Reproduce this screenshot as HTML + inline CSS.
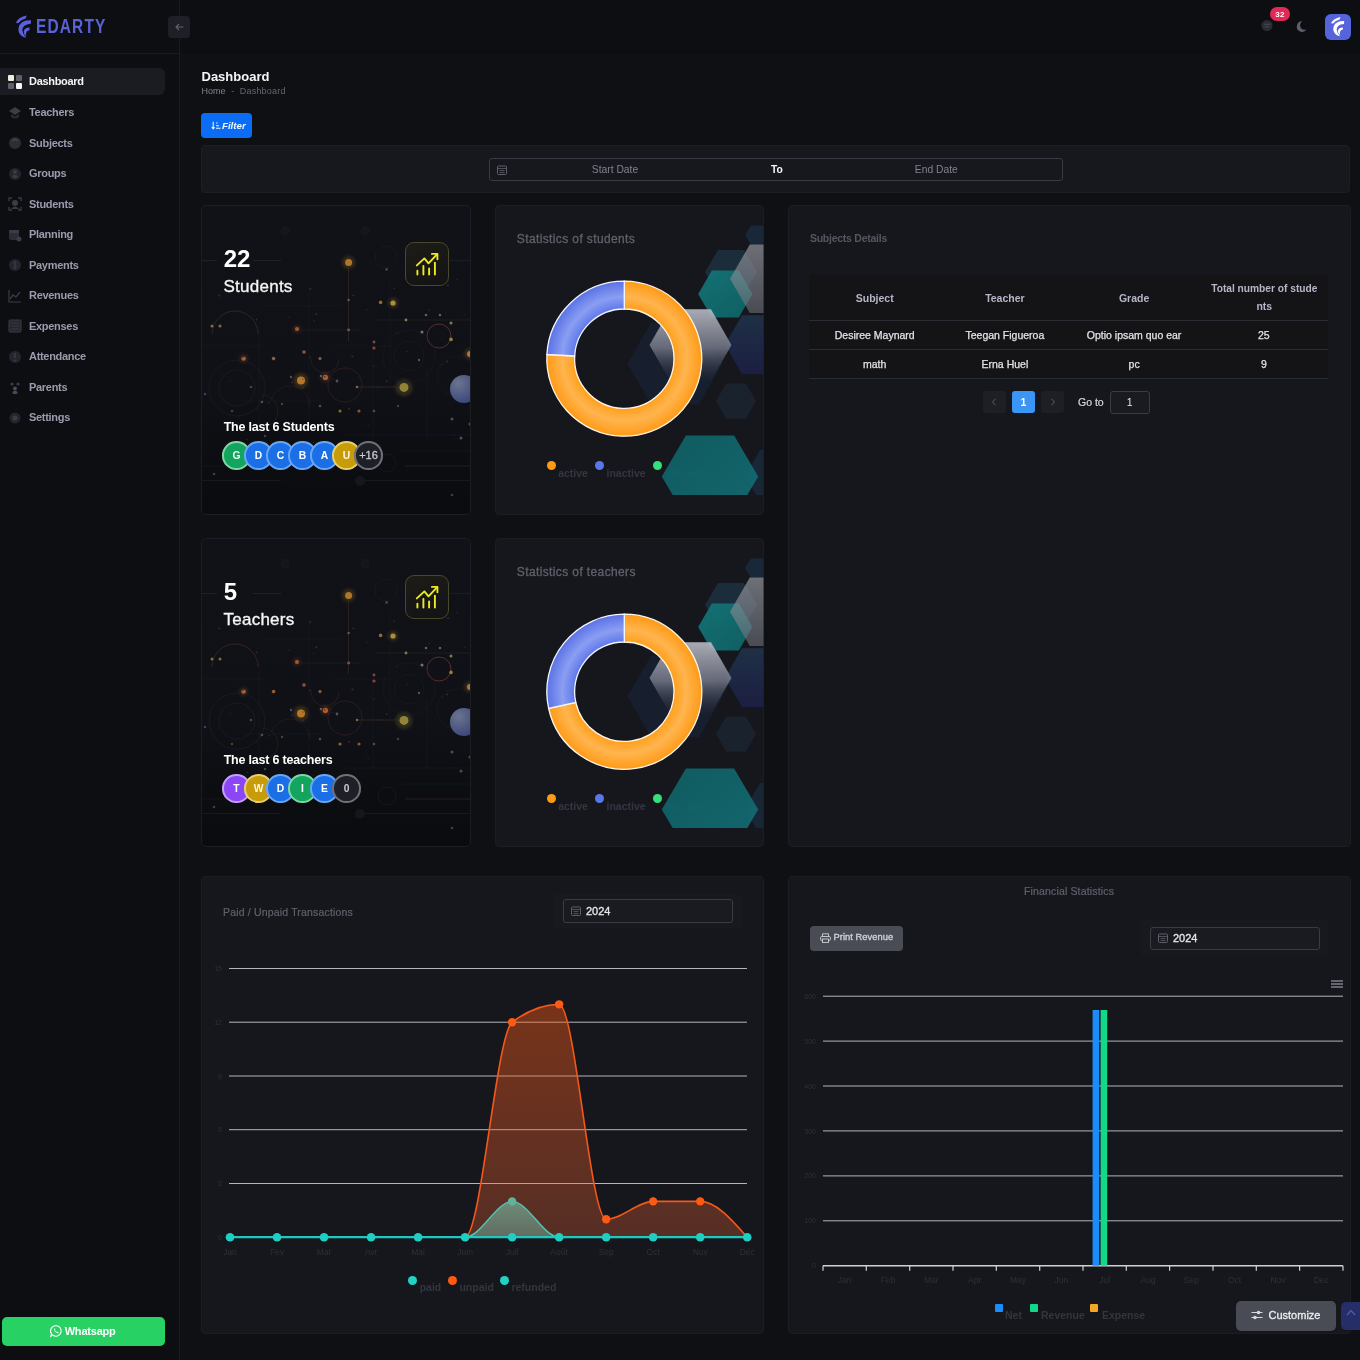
<!DOCTYPE html>
<html><head><meta charset="utf-8"><title>Edarty Dashboard</title>
<style>
*{box-sizing:border-box;margin:0;padding:0}
html,body{width:1360px;height:1360px;overflow:hidden;background:#0f1014;font-family:"Liberation Sans",Arial,sans-serif;color:#f5f5f5}
.t{position:absolute;white-space:nowrap;line-height:1}
.r{position:absolute}
svg{position:absolute;overflow:visible}
</style></head><body>
<div class="r" style="left:0px;top:0px;width:179px;height:1360px;background:#0d0e12"></div>
<div class="r" style="left:180px;top:0px;width:1180px;height:54px;background:#0d0e12"></div>
<div class="r" style="left:179px;top:0px;width:1px;height:1360px;background:#1a1b21"></div>
<div class="r" style="left:0px;top:53px;width:179px;height:1px;background:#1a1b21"></div>
<svg style="left:10px;top:10px" width="30" height="32" viewBox="0 0 30 32"><path d="M5.8 12.8 Q8.5 7.2 16.8 5.6 L15.6 8.6 Q11 9.6 8.2 13.2 Z" fill="#5b60dc"/><path d="M21 10.2 Q12.5 9.6 9.2 15.5 Q7 21.5 10.8 25.3 Q13 27.6 16.3 27.8 Q12.8 24.6 12.3 20.2 Q12.3 14.6 20.8 13.8 Z" fill="#5b60dc"/><path d="M19.6 17.6 Q14.6 17.4 13.7 21.6 Q13.4 24.6 16.2 26.4 Q15.6 23.6 16.6 21.8 Q17.6 20.4 19.3 20.4 Z" fill="#5b60dc"/></svg>
<div class="t" style="left:36.0px;top:17.4px;font-size:19.4px;color:#5a62d8;font-weight:700;letter-spacing:1.4px;transform:scaleX(0.8);transform-origin:0 0">EDARTY</div>
<div class="r" style="left:168px;top:16px;width:22px;height:22px;background:#1f2027;border-radius:4px"></div>
<svg style="left:175px;top:23px" width="9" height="8" viewBox="0 0 9 8"><path d="M8.5 4 H1 M4 1 L1 4 L4 7" stroke="#62646f" stroke-width="1.1" fill="none"/></svg>
<div class="r" style="left:0px;top:68px;width:165px;height:27px;background:#1b1c22;border-radius:0 6px 6px 0"></div>
<svg style="left:8px;top:75.0px" width="14" height="14" viewBox="0 0 14 14"><rect x="0" y="0" width="6" height="6" rx="1" fill="#f0ede0"/><rect x="8" y="0" width="6" height="6" rx="1" fill="#5d5f69"/><rect x="0" y="8" width="6" height="6" rx="1" fill="#5d5f69"/><rect x="8" y="8" width="6" height="6" rx="1" fill="#f5f5f5"/></svg>
<div class="t" style="left:29.0px;top:76.4px;font-size:11px;color:#f5f5f5;font-weight:700;letter-spacing:-0.3px">Dashboard</div>
<svg style="left:8px;top:105.5px" width="14" height="14" viewBox="0 0 14 14"><path d="M7 1 L13 5 L7 9 L1 5 Z" fill="#3a3c46"/><path d="M3 8 L3 11 Q7 14 11 11 L11 8 L7 10.5 Z" fill="#2a2c34"/></svg>
<div class="t" style="left:29.0px;top:106.9px;font-size:11px;color:#9a9cae;font-weight:700;letter-spacing:-0.3px">Teachers</div>
<svg style="left:8px;top:136.1px" width="14" height="14" viewBox="0 0 14 14"><circle cx="7" cy="7" r="6" fill="#2c2e36"/><path d="M4 5 Q7 2 10 5" stroke="#3e404a" stroke-width="2" fill="none"/></svg>
<div class="t" style="left:29.0px;top:137.5px;font-size:11px;color:#9a9cae;font-weight:700;letter-spacing:-0.3px">Subjects</div>
<svg style="left:8px;top:166.7px" width="14" height="14" viewBox="0 0 14 14"><circle cx="7" cy="7" r="6" fill="#24262e"/><circle cx="7" cy="5" r="2" fill="#3a3c46"/><rect x="4.5" y="8" width="5" height="3" rx="1.5" fill="#3a3c46"/></svg>
<div class="t" style="left:29.0px;top:168.0px;font-size:11px;color:#9a9cae;font-weight:700;letter-spacing:-0.3px">Groups</div>
<svg style="left:8px;top:197.2px" width="14" height="14" viewBox="0 0 14 14"><path d="M1 4 V1 H4 M10 1 H13 V4 M13 10 V13 H10 M4 13 H1 V10" stroke="#3a3c46" stroke-width="1.3" fill="none"/><circle cx="7" cy="6" r="3" fill="#3a3c46"/><path d="M3 12 Q7 7 11 12" fill="#3a3c46"/></svg>
<div class="t" style="left:29.0px;top:198.6px;font-size:11px;color:#9a9cae;font-weight:700;letter-spacing:-0.3px">Students</div>
<svg style="left:8px;top:227.8px" width="14" height="14" viewBox="0 0 14 14"><rect x="1" y="2" width="10" height="10" rx="2" fill="#2c2e36"/><rect x="1" y="2" width="10" height="3" rx="1" fill="#3a3c46"/><circle cx="11" cy="11" r="2.5" fill="#3a3c46"/></svg>
<div class="t" style="left:29.0px;top:229.1px;font-size:11px;color:#9a9cae;font-weight:700;letter-spacing:-0.3px">Planning</div>
<svg style="left:8px;top:258.3px" width="14" height="14" viewBox="0 0 14 14"><circle cx="7" cy="7" r="6" fill="#24262e"/><path d="M8.5 4.5 Q7 3.5 5.8 4.3 Q5 5.5 7 6.8 Q9 8 8 9.5 Q6.8 10.4 5.3 9.4 M7 2.8 V11.2" stroke="#3a3c46" stroke-width="1" fill="none"/></svg>
<div class="t" style="left:29.0px;top:259.7px;font-size:11px;color:#9a9cae;font-weight:700;letter-spacing:-0.3px">Payments</div>
<svg style="left:8px;top:288.9px" width="14" height="14" viewBox="0 0 14 14"><path d="M1 1 V13 H13" stroke="#3a3c46" stroke-width="1.2" fill="none"/><path d="M2 10 L5 6 L8 8 L12 3" stroke="#3a3c46" stroke-width="1.3" fill="none"/></svg>
<div class="t" style="left:29.0px;top:290.2px;font-size:11px;color:#9a9cae;font-weight:700;letter-spacing:-0.3px">Revenues</div>
<svg style="left:8px;top:319.4px" width="14" height="14" viewBox="0 0 14 14"><rect x="1" y="1" width="12" height="12" rx="1" fill="#24262e" stroke="#3a3c46"/><path d="M3 4 H11 M3 7 H11 M3 10 H11" stroke="#3a3c46" stroke-width="1.2"/></svg>
<div class="t" style="left:29.0px;top:320.8px;font-size:11px;color:#9a9cae;font-weight:700;letter-spacing:-0.3px">Expenses</div>
<svg style="left:8px;top:349.9px" width="14" height="14" viewBox="0 0 14 14"><circle cx="7" cy="7" r="6" fill="#24262e"/><path d="M7 3 V8" stroke="#3a3c46" stroke-width="1.6"/><circle cx="7" cy="10.5" r="1" fill="#3a3c46"/></svg>
<div class="t" style="left:29.0px;top:351.3px;font-size:11px;color:#9a9cae;font-weight:700;letter-spacing:-0.3px">Attendance</div>
<svg style="left:8px;top:380.5px" width="14" height="14" viewBox="0 0 14 14"><circle cx="4" cy="3" r="1.6" fill="#3a3c46"/><circle cx="10" cy="3" r="1.6" fill="#3a3c46"/><circle cx="7" cy="7.5" r="2" fill="#4a4c56"/><rect x="4.5" y="10" width="5" height="3" rx="1.5" fill="#4a4c56"/></svg>
<div class="t" style="left:29.0px;top:381.9px;font-size:11px;color:#9a9cae;font-weight:700;letter-spacing:-0.3px">Parents</div>
<svg style="left:8px;top:411.1px" width="14" height="14" viewBox="0 0 14 14"><circle cx="7" cy="7" r="5.5" fill="#24262e"/><circle cx="7" cy="7" r="2.5" fill="#3a3c46"/></svg>
<div class="t" style="left:29.0px;top:412.4px;font-size:11px;color:#9a9cae;font-weight:700;letter-spacing:-0.3px">Settings</div>
<div class="r" style="left:2px;top:1317px;width:163px;height:29px;background:#28d164;border-radius:5px"></div>
<svg style="left:49.5px;top:1325px" width="12" height="12" viewBox="0 0 12 12"><path d="M6 0.8 A5.2 5.2 0 1 1 2.7 10 L0.8 11.2 L1.5 9 A5.2 5.2 0 0 1 6 0.8 Z" stroke="#fff" stroke-width="1.1" fill="none"/><path d="M4 3.6 Q3.8 7 8 8.4 L8.7 7.4 L7.5 6.6 L6.9 7.1 Q5.4 6.4 4.9 5.1 L5.4 4.6 L4.9 3.4 Z" fill="#fff"/></svg>
<div class="t" style="left:64.7px;top:1326.1px;font-size:11px;color:#fff;font-weight:700;letter-spacing:-0.2px">Whatsapp</div>
<svg style="left:1261px;top:20px" width="12" height="11" viewBox="0 0 12 11"><circle cx="6" cy="5.5" r="5.5" fill="#2a2c33"/><path d="M3 4.3 H9 M3.8 6.8 H8" stroke="#4a4c56" stroke-width="1.1"/></svg>
<div class="r" style="left:1270px;top:7px;width:20px;height:14px;background:#e42855;border-radius:7px"></div>
<div class="t" style="left:1270.0px;top:10.5px;width:20px;text-align:center;font-size:8px;color:#fff;font-weight:700;letter-spacing:0.4px">32</div>
<svg style="left:1296px;top:20.5px" width="11" height="11" viewBox="0 0 11 11"><path d="M6.5 0.3 A5.3 5.3 0 1 0 10.7 8.3 A4.3 4.3 0 0 1 6.5 0.3 Z" fill="#5c5e69"/></svg>
<div class="r" style="left:1325px;top:14px;width:26px;height:26px;background:#5664dc;border-radius:6px"></div>
<svg style="left:1326px;top:12px" width="26" height="28" viewBox="0 0 30 32"><path d="M5.8 12.8 Q8.5 7.2 16.8 5.6 L15.6 8.6 Q11 9.6 8.2 13.2 Z" fill="#fff"/><path d="M21 10.2 Q12.5 9.6 9.2 15.5 Q7 21.5 10.8 25.3 Q13 27.6 16.3 27.8 Q12.8 24.6 12.3 20.2 Q12.3 14.6 20.8 13.8 Z" fill="#fff"/><path d="M19.6 17.6 Q14.6 17.4 13.7 21.6 Q13.4 24.6 16.2 26.4 Q15.6 23.6 16.6 21.8 Q17.6 20.4 19.3 20.4 Z" fill="#fff"/></svg>
<div class="t" style="left:201.5px;top:69.5px;font-size:13px;color:#f5f5f5;font-weight:700;">Dashboard</div>
<div class="t" style="left:201.5px;top:87.3px;font-size:9px;color:#808290;font-weight:400;">Home</div>
<div class="t" style="left:231.3px;top:87.3px;font-size:9px;color:#636674;font-weight:400;">-</div>
<div class="t" style="left:239.8px;top:87.3px;font-size:9px;color:#636674;font-weight:400;letter-spacing:0.2px">Dashboard</div>
<div class="r" style="left:201px;top:113px;width:51px;height:25px;background:#0b6cf6;border-radius:4px"></div>
<svg style="left:211px;top:121px" width="11" height="9" viewBox="0 0 11 9"><path d="M2.2 0.8 V7.6 M0.8 6.2 L2.2 7.9 L3.6 6.2" stroke="#e8f4ff" stroke-width="1.1" fill="none"/><path d="M5 2 H6.6 M5 4.7 H8 M5 7.3 H9.5" stroke="#e8f4ff" stroke-width="1.1"/></svg>
<div class="t" style="left:222.0px;top:120.9px;font-size:9.7px;color:#eef7ff;font-weight:700;font-style:italic">Filter</div>
<div class="r" style="left:201px;top:145px;width:1149px;height:48px;background:#17181d;border:1px solid #1d1e24;border-radius:4px"></div>
<div class="r" style="left:489px;top:158px;width:574px;height:23px;background:#17181d;border:1px solid #383a44;border-radius:3px"></div>
<svg style="left:496.5px;top:164.5px" width="10" height="10" viewBox="0 0 10 10"><rect x="0.5" y="1" width="9" height="8.5" rx="1" stroke="#5d5f69" fill="none"/><path d="M0.5 3.5 H9.5 M2.5 5.5 H7.5 M2.5 7.5 H7.5" stroke="#5d5f69" stroke-width="0.8"/></svg>
<div class="t" style="left:591.8px;top:165.3px;font-size:10.3px;color:#808290;font-weight:400;">Start Date</div>
<div class="t" style="left:771.0px;top:165.3px;font-size:10.3px;color:#f5f5f5;font-weight:700;">To</div>
<div class="t" style="left:914.8px;top:165.3px;font-size:10.3px;color:#808290;font-weight:400;">End Date</div>
<div class="r" style="left:201px;top:205px;width:270px;height:310px;border-radius:5px;border:1px solid #1d1e25;overflow:hidden;background:linear-gradient(180deg,#111217 0%,#101116 60%,#0c0d11 85%,#0a0b0f 100%)"><svg style="left:0;top:0" width="270" height="310" viewBox="0 0 270 310"><defs><radialGradient id="bc205" cx="0.3" cy="0.3" r="0.8"><stop offset="0" stop-color="#7c86a4"/><stop offset="1" stop-color="#3f4d8c"/></radialGradient></defs><filter id="sf205"><feGaussianBlur stdDeviation="0.45"/></filter><filter id="gf205" x="-50%" y="-50%" width="200%" height="200%"><feGaussianBlur stdDeviation="1.6"/></filter><g filter="url(#gf205)"><circle cx="146.6" cy="56.4" r="6.6" fill="#c8882e" opacity="0.2"/><circle cx="191" cy="97" r="4.9" fill="#c9a53a" opacity="0.2"/><circle cx="95" cy="123" r="3.8" fill="#c06040" opacity="0.2"/><circle cx="41.6" cy="152.6" r="4.2" fill="#c8703a" opacity="0.2"/><circle cx="99" cy="174.6" r="7.6" fill="#d08a2d" opacity="0.2"/><circle cx="123.4" cy="171.4" r="4.9" fill="#d0682c" opacity="0.2"/><circle cx="202" cy="181.4" r="8.5" fill="#a8963e" opacity="0.2"/><circle cx="268" cy="148" r="5.7" fill="#c88a30" opacity="0.2"/></g><g filter="url(#sf205)" opacity="0.82"><line x1="0" y1="54.5" x2="15" y2="54.5" stroke="#23252d" stroke-width="1" opacity="1"/><line x1="51" y1="54.5" x2="79" y2="54.5" stroke="#23252d" stroke-width="1" opacity="1"/><line x1="248" y1="54.5" x2="270" y2="54.5" stroke="#1f2129" stroke-width="1" opacity="1"/><line x1="146.6" y1="60" x2="146.6" y2="135" stroke="#3a2a22" stroke-width="1" opacity="0.9"/><line x1="107" y1="79" x2="107" y2="215" stroke="#1a1c23" stroke-width="1" opacity="1"/><line x1="171" y1="135" x2="171" y2="230" stroke="#1c1d24" stroke-width="1" opacity="1"/><line x1="188" y1="70" x2="188" y2="180" stroke="#191b22" stroke-width="1" opacity="1"/><line x1="173" y1="114" x2="270" y2="114" stroke="#2a2420" stroke-width="1" opacity="0.9"/><line x1="99" y1="124" x2="159" y2="124" stroke="#1d1e25" stroke-width="1" opacity="1"/><line x1="155" y1="181" x2="199" y2="181" stroke="#3a3020" stroke-width="1" opacity="0.9"/><line x1="0" y1="140" x2="60" y2="140" stroke="#1b1c23" stroke-width="1" opacity="1"/><line x1="130" y1="140" x2="190" y2="140" stroke="#1b1c23" stroke-width="1" opacity="1"/><line x1="60" y1="100" x2="140" y2="100" stroke="#191a21" stroke-width="1" opacity="1"/><line x1="143" y1="229" x2="270" y2="229" stroke="#1c1d24" stroke-width="1" opacity="1"/><line x1="199" y1="245" x2="270" y2="245" stroke="#1c1d24" stroke-width="1" opacity="1"/><line x1="0" y1="260" x2="100" y2="260" stroke="#1c1d24" stroke-width="1" opacity="1"/><line x1="203" y1="260" x2="270" y2="260" stroke="#2a2420" stroke-width="1" opacity="1"/><line x1="0" y1="274.5" x2="79" y2="274.5" stroke="#1d1e25" stroke-width="1" opacity="1"/><line x1="159" y1="274.5" x2="270" y2="274.5" stroke="#1d1e25" stroke-width="1" opacity="1"/><line x1="57" y1="120" x2="57" y2="215" stroke="#1a1b22" stroke-width="1" opacity="1"/><line x1="225" y1="160" x2="225" y2="230" stroke="#1a1b22" stroke-width="1" opacity="1"/><line x1="40" y1="195" x2="120" y2="195" stroke="#1a1b22" stroke-width="1" opacity="1"/><circle cx="237" cy="130" r="12" fill="none" stroke="#7a3a3a" stroke-width="1" opacity="0.85"/><path d="M10.0 128.0 A23 23 0 0 1 56.0 128.0" fill="none" stroke="#4a3028" stroke-width="1" opacity="0.8"/><circle cx="143" cy="179" r="17" fill="none" stroke="#3a2526" stroke-width="1" opacity="0.8"/><path d="M137.0 153.0 A14 14 0 0 1 109.0 153.0" fill="none" stroke="#3a2426" stroke-width="1" opacity="0.8"/><circle cx="35" cy="182" r="28" fill="none" stroke="#1c1f2c" stroke-width="1" opacity="0.9"/><circle cx="35" cy="182" r="18" fill="none" stroke="#1e2130" stroke-width="1" opacity="0.8"/><path d="M69.2 193.2 A20 20 0 0 1 108.0 200.0" fill="none" stroke="#2d2228" stroke-width="1" opacity="0.7"/><path d="M60.0 189.0 A16 16 0 0 1 60.0 221.0" fill="none" stroke="#3a2428" stroke-width="1" opacity="0.6"/><circle cx="207" cy="150" r="26" fill="none" stroke="#1a1c25" stroke-width="1" opacity="0.8"/><circle cx="207" cy="150" r="15" fill="none" stroke="#1f1f28" stroke-width="1" opacity="0.6"/><circle cx="185" cy="257" r="9" fill="none" stroke="#1d1e26" stroke-width="1" opacity="0.8"/><circle cx="184" cy="51" r="11" fill="none" stroke="#1d1f27" stroke-width="1" opacity="0.8"/><circle cx="255" cy="170" r="20" fill="none" stroke="#1b1d26" stroke-width="1" opacity="0.8"/><circle cx="83" cy="25" r="5" fill="#16171c"/><circle cx="163" cy="25" r="5" fill="#16171c"/><circle cx="158" cy="275" r="5" fill="#191a22"/><circle cx="146.6" cy="56.4" r="3.5" fill="#c8882e"/><circle cx="191" cy="97" r="2.6" fill="#c9a53a"/><circle cx="178.6" cy="96.4" r="1.8" fill="#a8803a"/><circle cx="95" cy="123" r="2" fill="#c06040"/><circle cx="41.6" cy="152.6" r="2.2" fill="#c8703a"/><circle cx="71.6" cy="152.6" r="1.8" fill="#b8703a"/><circle cx="102" cy="146" r="1.8" fill="#b0604a"/><circle cx="118" cy="152.6" r="1.6" fill="#9a7050"/><circle cx="99" cy="174.6" r="4" fill="#d08a2d"/><circle cx="123.4" cy="171.4" r="2.6" fill="#d0682c"/><circle cx="202" cy="181.4" r="4.5" fill="#a8963e"/><circle cx="249" cy="133.4" r="1.8" fill="#b09a40"/><circle cx="220" cy="126" r="1.5" fill="#8a8a90"/><circle cx="10" cy="120" r="1.5" fill="#9a8040"/><circle cx="18" cy="120" r="1.5" fill="#9a8040"/><circle cx="204" cy="114" r="1.4" fill="#9a9060"/><circle cx="224" cy="109" r="1.3" fill="#707078"/><circle cx="238" cy="109" r="1.3" fill="#707078"/><circle cx="249" cy="117" r="1.5" fill="#9a9060"/><circle cx="268" cy="148" r="3" fill="#c88a30"/><circle cx="226" cy="76" r="1.2" fill="#8a6a40"/><circle cx="184.6" cy="63.4" r="1.2" fill="#606068"/><circle cx="146.6" cy="94" r="1.3" fill="#8a6040"/><circle cx="146.6" cy="124" r="1.4" fill="#a06050"/><circle cx="172" cy="136" r="1.4" fill="#8a5a50"/><circle cx="172" cy="142" r="1.6" fill="#b04a3a"/><circle cx="135" cy="175" r="1.4" fill="#60606a"/><circle cx="119" cy="170" r="1.2" fill="#6a6a72"/><circle cx="89" cy="171" r="1.2" fill="#5a5a8a"/><circle cx="155" cy="181" r="1.3" fill="#9a7a40"/><circle cx="250" cy="213" r="1.5" fill="#5a5c66"/><circle cx="268" cy="218" r="1.5" fill="#5a5c66"/><circle cx="259" cy="232" r="1.5" fill="#5a5c66"/><circle cx="12" cy="268" r="1.3" fill="#4a4c56"/><circle cx="250" cy="289" r="1.3" fill="#4a4c56"/><circle cx="196" cy="200" r="1.2" fill="#4a4c66"/><circle cx="217" cy="154" r="1.2" fill="#606272"/><circle cx="138" cy="205" r="1.6" fill="#a07a3a"/><circle cx="157" cy="205" r="1.6" fill="#a06a3a"/><circle cx="172" cy="205" r="1.3" fill="#6a5a4a"/><circle cx="118" cy="200" r="1.3" fill="#5a5c66"/><circle cx="49" cy="181" r="1.3" fill="#6a4a3a"/><circle cx="30" cy="205" r="1.3" fill="#5a4a3a"/><circle cx="63" cy="230" r="1.2" fill="#4a4c56"/><circle cx="3" cy="188" r="1.3" fill="#4a4c66"/><circle cx="80" cy="198" r="1.2" fill="#5a4a3a"/><circle cx="60" cy="196" r="1.3" fill="#6a5a4a"/><circle cx="122.6" cy="170.8" r="0.8" fill="#2a2e3e"/><circle cx="227.3" cy="104.2" r="0.8" fill="#34302c"/><circle cx="164.6" cy="103.5" r="0.8" fill="#2a2e3e"/><circle cx="28.6" cy="215.7" r="0.9" fill="#2e3040"/><circle cx="108.0" cy="151.5" r="0.9" fill="#34302c"/><circle cx="167.0" cy="219.7" r="0.6" fill="#2e3040"/><circle cx="54.5" cy="113.5" r="1.0" fill="#2e3040"/><circle cx="89.8" cy="176.4" r="0.9" fill="#3a3030"/><circle cx="171.5" cy="160.0" r="0.8" fill="#2e3040"/><circle cx="77.3" cy="249.6" r="1.0" fill="#2e3040"/><circle cx="87.0" cy="111.3" r="0.6" fill="#3a3428"/><circle cx="151.4" cy="89.4" r="1.0" fill="#2e3040"/><circle cx="105.5" cy="242.4" r="0.7" fill="#2e3040"/><circle cx="246.0" cy="79.4" r="1.1" fill="#2a2e3e"/><circle cx="108.3" cy="83.1" r="1.0" fill="#3a3030"/><circle cx="75.1" cy="85.7" r="0.6" fill="#3a3428"/><circle cx="111.6" cy="236.1" r="0.7" fill="#3a3030"/><circle cx="31.3" cy="80.8" r="0.7" fill="#2a2e3e"/><circle cx="150.4" cy="150.5" r="1.1" fill="#3a3030"/><circle cx="205.1" cy="145.5" r="0.7" fill="#2a2e3e"/><circle cx="114.4" cy="108.3" r="1.0" fill="#3a3428"/><circle cx="258.5" cy="176.7" r="0.7" fill="#2e3040"/><circle cx="107.5" cy="223.8" r="0.7" fill="#34302c"/><circle cx="262.2" cy="108.4" r="0.6" fill="#3a3428"/><circle cx="163.7" cy="219.5" r="0.6" fill="#2a2e3e"/><circle cx="28.4" cy="174.9" r="0.6" fill="#3a3030"/><circle cx="100.9" cy="182.0" r="1.1" fill="#3a3030"/><circle cx="130.8" cy="173.4" r="0.7" fill="#2a2e3e"/><circle cx="45.1" cy="233.5" r="0.7" fill="#34302c"/><circle cx="54.3" cy="203.1" r="0.7" fill="#34302c"/><circle cx="252.0" cy="228.8" r="0.6" fill="#34302c"/><circle cx="17.3" cy="89.6" r="1.1" fill="#34302c"/><circle cx="67.0" cy="196.8" r="0.8" fill="#3a3428"/><circle cx="240.3" cy="158.4" r="0.7" fill="#34302c"/><circle cx="192.3" cy="82.4" r="0.8" fill="#3a3030"/><circle cx="174.9" cy="180.9" r="0.7" fill="#2e3040"/><circle cx="243.5" cy="106.7" r="0.6" fill="#2e3040"/><circle cx="112.0" cy="114.8" r="0.7" fill="#2e3040"/><circle cx="100.9" cy="173.0" r="0.6" fill="#3a3030"/><circle cx="41.0" cy="151.1" r="0.9" fill="#3a3428"/><circle cx="184.7" cy="175.2" r="0.9" fill="#3a3030"/><circle cx="245.1" cy="155.5" r="1.0" fill="#3a3428"/><circle cx="255.3" cy="73.8" r="0.8" fill="#2e3040"/><circle cx="194.9" cy="127.4" r="0.6" fill="#2e3040"/><circle cx="147.0" cy="202.7" r="1.0" fill="#3a3030"/></g><circle cx="262" cy="183" r="14" fill="url(#bc205)" opacity="0.85"/></svg></div>
<div class="t" style="left:223.7px;top:246.7px;font-size:24px;color:#ffffff;font-weight:700;">22</div>
<div class="t" style="left:223.5px;top:278.0px;font-size:17px;color:#f5f5f5;font-weight:400;-webkit-text-stroke:0.35px #f5f5f5;letter-spacing:0.25px">Students</div>
<div class="r" style="left:405px;top:242px;width:44px;height:44px;border-radius:9px;border:1px solid #4a482a;background:linear-gradient(160deg,#1d1c16,#131317)"></div>
<svg style="left:412px;top:250px" width="30" height="28" viewBox="0 0 30 28"><path d="M4.8 15.4 L12.4 8.4 L16.5 13.3 L25.2 4.1" stroke="#eeea20" stroke-width="1.9" fill="none" stroke-linecap="round" stroke-linejoin="round"/><path d="M19.9 3.9 H25.4 V9.2" stroke="#eeea20" stroke-width="1.9" fill="none" stroke-linecap="round" stroke-linejoin="round"/><path d="M5.4 20.8 V24.6 M11.4 15.9 V24.6 M17.1 18.4 V24.6 M22.9 12.7 V24.6" stroke="#eeea20" stroke-width="1.9" stroke-linecap="round"/></svg>
<div class="t" style="left:223.7px;top:421.2px;font-size:12.5px;color:#ffffff;font-weight:700;letter-spacing:-0.2px">The last 6 Students</div>
<div class="r" style="left:222.2px;top:441px;width:28.6px;height:28.6px;border-radius:50%;background:#13a55e;border:2px solid #7fd7a8"></div>
<div class="t" style="left:221.5px;top:450.5px;width:30px;text-align:center;font-size:10.3px;color:#e8fff0;font-weight:700;">G</div>
<div class="r" style="left:244.2px;top:441px;width:28.6px;height:28.6px;border-radius:50%;background:#1b6fe6;border:2px solid #6aa6f5"></div>
<div class="t" style="left:243.5px;top:450.5px;width:30px;text-align:center;font-size:10.3px;color:#fff;font-weight:700;">D</div>
<div class="r" style="left:266.2px;top:441px;width:28.6px;height:28.6px;border-radius:50%;background:#1b6fe6;border:2px solid #6aa6f5"></div>
<div class="t" style="left:265.5px;top:450.5px;width:30px;text-align:center;font-size:10.3px;color:#fff;font-weight:700;">C</div>
<div class="r" style="left:288.2px;top:441px;width:28.6px;height:28.6px;border-radius:50%;background:#1b6fe6;border:2px solid #6aa6f5"></div>
<div class="t" style="left:287.5px;top:450.5px;width:30px;text-align:center;font-size:10.3px;color:#fff;font-weight:700;">B</div>
<div class="r" style="left:310.2px;top:441px;width:28.6px;height:28.6px;border-radius:50%;background:#1b6fe6;border:2px solid #6aa6f5"></div>
<div class="t" style="left:309.5px;top:450.5px;width:30px;text-align:center;font-size:10.3px;color:#fff;font-weight:700;">A</div>
<div class="r" style="left:332.2px;top:441px;width:28.6px;height:28.6px;border-radius:50%;background:#c79c08;border:2px solid #e7cf6e"></div>
<div class="t" style="left:331.5px;top:450.5px;width:30px;text-align:center;font-size:10.3px;color:#fff8dc;font-weight:700;">U</div>
<div class="r" style="left:354.2px;top:441px;width:28.6px;height:28.6px;border-radius:50%;background:#1f2027;border:2px solid #6e707a"></div>
<div class="t" style="left:353.5px;top:449.9px;width:30px;text-align:center;font-size:11px;color:#c9cbd4;font-weight:400;-webkit-text-stroke:0.3px #c9cbd4">+16</div>
<div class="r" style="left:201px;top:538px;width:270px;height:309px;border-radius:5px;border:1px solid #1d1e25;overflow:hidden;background:linear-gradient(180deg,#111217 0%,#101116 60%,#0c0d11 85%,#0a0b0f 100%)"><svg style="left:0;top:0" width="270" height="310" viewBox="0 0 270 310"><defs><radialGradient id="bc538" cx="0.3" cy="0.3" r="0.8"><stop offset="0" stop-color="#7c86a4"/><stop offset="1" stop-color="#3f4d8c"/></radialGradient></defs><filter id="sf538"><feGaussianBlur stdDeviation="0.45"/></filter><filter id="gf538" x="-50%" y="-50%" width="200%" height="200%"><feGaussianBlur stdDeviation="1.6"/></filter><g filter="url(#gf538)"><circle cx="146.6" cy="56.4" r="6.6" fill="#c8882e" opacity="0.2"/><circle cx="191" cy="97" r="4.9" fill="#c9a53a" opacity="0.2"/><circle cx="95" cy="123" r="3.8" fill="#c06040" opacity="0.2"/><circle cx="41.6" cy="152.6" r="4.2" fill="#c8703a" opacity="0.2"/><circle cx="99" cy="174.6" r="7.6" fill="#d08a2d" opacity="0.2"/><circle cx="123.4" cy="171.4" r="4.9" fill="#d0682c" opacity="0.2"/><circle cx="202" cy="181.4" r="8.5" fill="#a8963e" opacity="0.2"/><circle cx="268" cy="148" r="5.7" fill="#c88a30" opacity="0.2"/></g><g filter="url(#sf538)" opacity="0.82"><line x1="0" y1="54.5" x2="15" y2="54.5" stroke="#23252d" stroke-width="1" opacity="1"/><line x1="51" y1="54.5" x2="79" y2="54.5" stroke="#23252d" stroke-width="1" opacity="1"/><line x1="248" y1="54.5" x2="270" y2="54.5" stroke="#1f2129" stroke-width="1" opacity="1"/><line x1="146.6" y1="60" x2="146.6" y2="135" stroke="#3a2a22" stroke-width="1" opacity="0.9"/><line x1="107" y1="79" x2="107" y2="215" stroke="#1a1c23" stroke-width="1" opacity="1"/><line x1="171" y1="135" x2="171" y2="230" stroke="#1c1d24" stroke-width="1" opacity="1"/><line x1="188" y1="70" x2="188" y2="180" stroke="#191b22" stroke-width="1" opacity="1"/><line x1="173" y1="114" x2="270" y2="114" stroke="#2a2420" stroke-width="1" opacity="0.9"/><line x1="99" y1="124" x2="159" y2="124" stroke="#1d1e25" stroke-width="1" opacity="1"/><line x1="155" y1="181" x2="199" y2="181" stroke="#3a3020" stroke-width="1" opacity="0.9"/><line x1="0" y1="140" x2="60" y2="140" stroke="#1b1c23" stroke-width="1" opacity="1"/><line x1="130" y1="140" x2="190" y2="140" stroke="#1b1c23" stroke-width="1" opacity="1"/><line x1="60" y1="100" x2="140" y2="100" stroke="#191a21" stroke-width="1" opacity="1"/><line x1="143" y1="229" x2="270" y2="229" stroke="#1c1d24" stroke-width="1" opacity="1"/><line x1="199" y1="245" x2="270" y2="245" stroke="#1c1d24" stroke-width="1" opacity="1"/><line x1="0" y1="260" x2="100" y2="260" stroke="#1c1d24" stroke-width="1" opacity="1"/><line x1="203" y1="260" x2="270" y2="260" stroke="#2a2420" stroke-width="1" opacity="1"/><line x1="0" y1="274.5" x2="79" y2="274.5" stroke="#1d1e25" stroke-width="1" opacity="1"/><line x1="159" y1="274.5" x2="270" y2="274.5" stroke="#1d1e25" stroke-width="1" opacity="1"/><line x1="57" y1="120" x2="57" y2="215" stroke="#1a1b22" stroke-width="1" opacity="1"/><line x1="225" y1="160" x2="225" y2="230" stroke="#1a1b22" stroke-width="1" opacity="1"/><line x1="40" y1="195" x2="120" y2="195" stroke="#1a1b22" stroke-width="1" opacity="1"/><circle cx="237" cy="130" r="12" fill="none" stroke="#7a3a3a" stroke-width="1" opacity="0.85"/><path d="M10.0 128.0 A23 23 0 0 1 56.0 128.0" fill="none" stroke="#4a3028" stroke-width="1" opacity="0.8"/><circle cx="143" cy="179" r="17" fill="none" stroke="#3a2526" stroke-width="1" opacity="0.8"/><path d="M137.0 153.0 A14 14 0 0 1 109.0 153.0" fill="none" stroke="#3a2426" stroke-width="1" opacity="0.8"/><circle cx="35" cy="182" r="28" fill="none" stroke="#1c1f2c" stroke-width="1" opacity="0.9"/><circle cx="35" cy="182" r="18" fill="none" stroke="#1e2130" stroke-width="1" opacity="0.8"/><path d="M69.2 193.2 A20 20 0 0 1 108.0 200.0" fill="none" stroke="#2d2228" stroke-width="1" opacity="0.7"/><path d="M60.0 189.0 A16 16 0 0 1 60.0 221.0" fill="none" stroke="#3a2428" stroke-width="1" opacity="0.6"/><circle cx="207" cy="150" r="26" fill="none" stroke="#1a1c25" stroke-width="1" opacity="0.8"/><circle cx="207" cy="150" r="15" fill="none" stroke="#1f1f28" stroke-width="1" opacity="0.6"/><circle cx="185" cy="257" r="9" fill="none" stroke="#1d1e26" stroke-width="1" opacity="0.8"/><circle cx="184" cy="51" r="11" fill="none" stroke="#1d1f27" stroke-width="1" opacity="0.8"/><circle cx="255" cy="170" r="20" fill="none" stroke="#1b1d26" stroke-width="1" opacity="0.8"/><circle cx="83" cy="25" r="5" fill="#16171c"/><circle cx="163" cy="25" r="5" fill="#16171c"/><circle cx="158" cy="275" r="5" fill="#191a22"/><circle cx="146.6" cy="56.4" r="3.5" fill="#c8882e"/><circle cx="191" cy="97" r="2.6" fill="#c9a53a"/><circle cx="178.6" cy="96.4" r="1.8" fill="#a8803a"/><circle cx="95" cy="123" r="2" fill="#c06040"/><circle cx="41.6" cy="152.6" r="2.2" fill="#c8703a"/><circle cx="71.6" cy="152.6" r="1.8" fill="#b8703a"/><circle cx="102" cy="146" r="1.8" fill="#b0604a"/><circle cx="118" cy="152.6" r="1.6" fill="#9a7050"/><circle cx="99" cy="174.6" r="4" fill="#d08a2d"/><circle cx="123.4" cy="171.4" r="2.6" fill="#d0682c"/><circle cx="202" cy="181.4" r="4.5" fill="#a8963e"/><circle cx="249" cy="133.4" r="1.8" fill="#b09a40"/><circle cx="220" cy="126" r="1.5" fill="#8a8a90"/><circle cx="10" cy="120" r="1.5" fill="#9a8040"/><circle cx="18" cy="120" r="1.5" fill="#9a8040"/><circle cx="204" cy="114" r="1.4" fill="#9a9060"/><circle cx="224" cy="109" r="1.3" fill="#707078"/><circle cx="238" cy="109" r="1.3" fill="#707078"/><circle cx="249" cy="117" r="1.5" fill="#9a9060"/><circle cx="268" cy="148" r="3" fill="#c88a30"/><circle cx="226" cy="76" r="1.2" fill="#8a6a40"/><circle cx="184.6" cy="63.4" r="1.2" fill="#606068"/><circle cx="146.6" cy="94" r="1.3" fill="#8a6040"/><circle cx="146.6" cy="124" r="1.4" fill="#a06050"/><circle cx="172" cy="136" r="1.4" fill="#8a5a50"/><circle cx="172" cy="142" r="1.6" fill="#b04a3a"/><circle cx="135" cy="175" r="1.4" fill="#60606a"/><circle cx="119" cy="170" r="1.2" fill="#6a6a72"/><circle cx="89" cy="171" r="1.2" fill="#5a5a8a"/><circle cx="155" cy="181" r="1.3" fill="#9a7a40"/><circle cx="250" cy="213" r="1.5" fill="#5a5c66"/><circle cx="268" cy="218" r="1.5" fill="#5a5c66"/><circle cx="259" cy="232" r="1.5" fill="#5a5c66"/><circle cx="12" cy="268" r="1.3" fill="#4a4c56"/><circle cx="250" cy="289" r="1.3" fill="#4a4c56"/><circle cx="196" cy="200" r="1.2" fill="#4a4c66"/><circle cx="217" cy="154" r="1.2" fill="#606272"/><circle cx="138" cy="205" r="1.6" fill="#a07a3a"/><circle cx="157" cy="205" r="1.6" fill="#a06a3a"/><circle cx="172" cy="205" r="1.3" fill="#6a5a4a"/><circle cx="118" cy="200" r="1.3" fill="#5a5c66"/><circle cx="49" cy="181" r="1.3" fill="#6a4a3a"/><circle cx="30" cy="205" r="1.3" fill="#5a4a3a"/><circle cx="63" cy="230" r="1.2" fill="#4a4c56"/><circle cx="3" cy="188" r="1.3" fill="#4a4c66"/><circle cx="80" cy="198" r="1.2" fill="#5a4a3a"/><circle cx="60" cy="196" r="1.3" fill="#6a5a4a"/><circle cx="122.6" cy="170.8" r="0.8" fill="#2a2e3e"/><circle cx="227.3" cy="104.2" r="0.8" fill="#34302c"/><circle cx="164.6" cy="103.5" r="0.8" fill="#2a2e3e"/><circle cx="28.6" cy="215.7" r="0.9" fill="#2e3040"/><circle cx="108.0" cy="151.5" r="0.9" fill="#34302c"/><circle cx="167.0" cy="219.7" r="0.6" fill="#2e3040"/><circle cx="54.5" cy="113.5" r="1.0" fill="#2e3040"/><circle cx="89.8" cy="176.4" r="0.9" fill="#3a3030"/><circle cx="171.5" cy="160.0" r="0.8" fill="#2e3040"/><circle cx="77.3" cy="249.6" r="1.0" fill="#2e3040"/><circle cx="87.0" cy="111.3" r="0.6" fill="#3a3428"/><circle cx="151.4" cy="89.4" r="1.0" fill="#2e3040"/><circle cx="105.5" cy="242.4" r="0.7" fill="#2e3040"/><circle cx="246.0" cy="79.4" r="1.1" fill="#2a2e3e"/><circle cx="108.3" cy="83.1" r="1.0" fill="#3a3030"/><circle cx="75.1" cy="85.7" r="0.6" fill="#3a3428"/><circle cx="111.6" cy="236.1" r="0.7" fill="#3a3030"/><circle cx="31.3" cy="80.8" r="0.7" fill="#2a2e3e"/><circle cx="150.4" cy="150.5" r="1.1" fill="#3a3030"/><circle cx="205.1" cy="145.5" r="0.7" fill="#2a2e3e"/><circle cx="114.4" cy="108.3" r="1.0" fill="#3a3428"/><circle cx="258.5" cy="176.7" r="0.7" fill="#2e3040"/><circle cx="107.5" cy="223.8" r="0.7" fill="#34302c"/><circle cx="262.2" cy="108.4" r="0.6" fill="#3a3428"/><circle cx="163.7" cy="219.5" r="0.6" fill="#2a2e3e"/><circle cx="28.4" cy="174.9" r="0.6" fill="#3a3030"/><circle cx="100.9" cy="182.0" r="1.1" fill="#3a3030"/><circle cx="130.8" cy="173.4" r="0.7" fill="#2a2e3e"/><circle cx="45.1" cy="233.5" r="0.7" fill="#34302c"/><circle cx="54.3" cy="203.1" r="0.7" fill="#34302c"/><circle cx="252.0" cy="228.8" r="0.6" fill="#34302c"/><circle cx="17.3" cy="89.6" r="1.1" fill="#34302c"/><circle cx="67.0" cy="196.8" r="0.8" fill="#3a3428"/><circle cx="240.3" cy="158.4" r="0.7" fill="#34302c"/><circle cx="192.3" cy="82.4" r="0.8" fill="#3a3030"/><circle cx="174.9" cy="180.9" r="0.7" fill="#2e3040"/><circle cx="243.5" cy="106.7" r="0.6" fill="#2e3040"/><circle cx="112.0" cy="114.8" r="0.7" fill="#2e3040"/><circle cx="100.9" cy="173.0" r="0.6" fill="#3a3030"/><circle cx="41.0" cy="151.1" r="0.9" fill="#3a3428"/><circle cx="184.7" cy="175.2" r="0.9" fill="#3a3030"/><circle cx="245.1" cy="155.5" r="1.0" fill="#3a3428"/><circle cx="255.3" cy="73.8" r="0.8" fill="#2e3040"/><circle cx="194.9" cy="127.4" r="0.6" fill="#2e3040"/><circle cx="147.0" cy="202.7" r="1.0" fill="#3a3030"/></g><circle cx="262" cy="183" r="14" fill="url(#bc538)" opacity="0.85"/></svg></div>
<div class="t" style="left:223.7px;top:579.7px;font-size:24px;color:#ffffff;font-weight:700;">5</div>
<div class="t" style="left:223.5px;top:611.0px;font-size:17px;color:#f5f5f5;font-weight:400;-webkit-text-stroke:0.35px #f5f5f5;letter-spacing:0.25px">Teachers</div>
<div class="r" style="left:405px;top:575px;width:44px;height:44px;border-radius:9px;border:1px solid #4a482a;background:linear-gradient(160deg,#1d1c16,#131317)"></div>
<svg style="left:412px;top:583px" width="30" height="28" viewBox="0 0 30 28"><path d="M4.8 15.4 L12.4 8.4 L16.5 13.3 L25.2 4.1" stroke="#eeea20" stroke-width="1.9" fill="none" stroke-linecap="round" stroke-linejoin="round"/><path d="M19.9 3.9 H25.4 V9.2" stroke="#eeea20" stroke-width="1.9" fill="none" stroke-linecap="round" stroke-linejoin="round"/><path d="M5.4 20.8 V24.6 M11.4 15.9 V24.6 M17.1 18.4 V24.6 M22.9 12.7 V24.6" stroke="#eeea20" stroke-width="1.9" stroke-linecap="round"/></svg>
<div class="t" style="left:223.7px;top:754.2px;font-size:12.5px;color:#ffffff;font-weight:700;letter-spacing:-0.2px">The last 6 teachers</div>
<div class="r" style="left:222.2px;top:774px;width:28.6px;height:28.6px;border-radius:50%;background:#8b46f5;border:2px solid #c4a0fa"></div>
<div class="t" style="left:221.5px;top:783.5px;width:30px;text-align:center;font-size:10.3px;color:#fff;font-weight:700;">T</div>
<div class="r" style="left:244.2px;top:774px;width:28.6px;height:28.6px;border-radius:50%;background:#c79c08;border:2px solid #e7cf6e"></div>
<div class="t" style="left:243.5px;top:783.5px;width:30px;text-align:center;font-size:10.3px;color:#fff8dc;font-weight:700;">W</div>
<div class="r" style="left:266.2px;top:774px;width:28.6px;height:28.6px;border-radius:50%;background:#1b6fe6;border:2px solid #6aa6f5"></div>
<div class="t" style="left:265.5px;top:783.5px;width:30px;text-align:center;font-size:10.3px;color:#fff;font-weight:700;">D</div>
<div class="r" style="left:288.2px;top:774px;width:28.6px;height:28.6px;border-radius:50%;background:#13a55e;border:2px solid #7fd7a8"></div>
<div class="t" style="left:287.5px;top:783.5px;width:30px;text-align:center;font-size:10.3px;color:#fff;font-weight:700;">I</div>
<div class="r" style="left:310.2px;top:774px;width:28.6px;height:28.6px;border-radius:50%;background:#1b6fe6;border:2px solid #6aa6f5"></div>
<div class="t" style="left:309.5px;top:783.5px;width:30px;text-align:center;font-size:10.3px;color:#fff;font-weight:700;">E</div>
<div class="r" style="left:332.2px;top:774px;width:28.6px;height:28.6px;border-radius:50%;background:#1f2027;border:2px solid #6e707a"></div>
<div class="t" style="left:331.5px;top:783.5px;width:30px;text-align:center;font-size:10.3px;color:#c9cbd4;font-weight:700;">0</div>
<div class="r" style="left:495px;top:205px;width:269px;height:310px;border-radius:4px;border:1px solid #1c1d23;background:#15171c"></div>
<div class="r" style="left:547.1px;top:461.4px;width:9px;height:9px;border-radius:50%;background:#ff9a16"></div>
<div class="t" style="left:558.2px;top:467.6px;font-size:10.5px;color:#343641;font-weight:700;">active</div>
<div class="r" style="left:594.9px;top:461.4px;width:9px;height:9px;border-radius:50%;background:#5b76e8"></div>
<div class="t" style="left:606.5px;top:467.6px;font-size:10.5px;color:#343641;font-weight:700;">inactive</div>
<div class="r" style="left:653.0px;top:461.4px;width:9px;height:9px;border-radius:50%;background:#35e07a"></div>
<div class="t" style="left:665.3px;top:467.6px;font-size:10.5px;color:#343641;font-weight:700;">not_yet</div>
<svg style="left:0;top:0" width="1360" height="1360" viewBox="0 0 1360 1360"><defs><linearGradient id="hg1205" x1="0" y1="0" x2="0" y2="1"><stop offset="0" stop-color="#a4a6ae"/><stop offset="1" stop-color="#6a6c76"/></linearGradient><linearGradient id="hg2205" x1="0" y1="0" x2="1" y2="1"><stop offset="0" stop-color="#137577"/><stop offset="1" stop-color="#0f6266"/></linearGradient><linearGradient id="hg3205" x1="0" y1="0" x2="0" y2="1"><stop offset="0" stop-color="#1f3148"/><stop offset="1" stop-color="#1c1f44"/></linearGradient><linearGradient id="hg4205" x1="0" y1="0" x2="0" y2="1"><stop offset="0" stop-color="#b9bcc4"/><stop offset="0.55" stop-color="#6c7080"/><stop offset="1" stop-color="#1e2434" stop-opacity="0.3"/></linearGradient><linearGradient id="hg5205" x1="0" y1="0" x2="1" y2="1"><stop offset="0" stop-color="#0f6467"/><stop offset="1" stop-color="#136e78"/></linearGradient><clipPath id="hc205"><rect x="600" y="215" width="163.5" height="280"/></clipPath><radialGradient id="og205" cx="624.3" cy="358.7" r="77.5" gradientUnits="userSpaceOnUse"><stop offset="0.64" stop-color="#ff9f1c"/><stop offset="0.8" stop-color="#ffb54f"/><stop offset="1" stop-color="#ff9a16"/></radialGradient><radialGradient id="bg205" cx="624.3" cy="358.7" r="77.5" gradientUnits="userSpaceOnUse"><stop offset="0.64" stop-color="#5f78ea"/><stop offset="0.8" stop-color="#8a9ef2"/><stop offset="1" stop-color="#5a72e6"/></radialGradient></defs><g clip-path="url(#hc205)"><polygon points="745.0,235.0 751.0,225.5 763.0,225.5 769.0,235.0 763.0,244.5 751.0,244.5" fill="#1a2a3c" opacity="0.9"/><polygon points="705.0,272.0 718.0,250.0 744.0,250.0 757.0,272.0 744.0,294.0 718.0,294.0" fill="#1b2d3c" opacity="0.95"/><polygon points="627.5,363.5 651.2,322.5 698.8,322.5 722.5,363.5 698.8,404.5 651.2,404.5" fill="#182234" opacity="0.75"/><polygon points="725.0,344.7 742.0,315.3 776.0,315.3 793.0,344.7 776.0,374.1 742.0,374.1" fill="url(#hg3205)" opacity="0.95"/><polygon points="698.2,294.1 711.8,270.6 738.8,270.6 752.4,294.1 738.8,317.6 711.8,317.6" fill="url(#hg2205)" opacity="0.95"/><polygon points="730.0,278.8 749.8,244.6 789.2,244.6 809.0,278.8 789.2,313.0 749.8,313.0" fill="url(#hg1205)" opacity="0.62"/><polygon points="649.5,345.0 670.0,309.2 711.0,309.2 731.5,345.0 711.0,380.8 670.0,380.8" fill="url(#hg4205)" opacity="0.9"/><polygon points="716.0,401.0 726.0,383.4 746.0,383.4 756.0,401.0 746.0,418.6 726.0,418.6" fill="#1b2431" opacity="0.9"/><polygon points="745.0,476.0 760.0,450.0 790.0,450.0 805.0,476.0 790.0,502.0 760.0,502.0" fill="#1a2838" opacity="0.9"/><polygon points="661.8,476.5 685.9,435.5 734.1,435.5 758.2,476.5 734.1,517.5 685.9,517.5" fill="url(#hg5205)" opacity="0.9"/></g><path d="M624.30 281.20 A77.5 77.5 0 1 1 546.91 354.52 L574.67 356.02 A49.7 49.7 0 1 0 624.30 309.00 Z" fill="url(#og205)" stroke="#fff6e8" stroke-width="1.3"/><path d="M546.91 354.51 A77.5 77.5 0 0 1 624.29 281.20 L624.29 309.00 A49.7 49.7 0 0 0 574.67 356.01 Z" fill="url(#bg205)" stroke="#f4f6ff" stroke-width="1.3"/></svg>
<div class="t" style="left:516.8px;top:232.8px;font-size:12px;color:#5f616c;font-weight:400;letter-spacing:0.38px;-webkit-text-stroke:0.3px #5f616c">Statistics of students</div>
<div class="r" style="left:495px;top:538px;width:269px;height:309px;border-radius:4px;border:1px solid #1c1d23;background:#15171c"></div>
<div class="r" style="left:547.1px;top:794.4px;width:9px;height:9px;border-radius:50%;background:#ff9a16"></div>
<div class="t" style="left:558.2px;top:800.6px;font-size:10.5px;color:#343641;font-weight:700;">active</div>
<div class="r" style="left:594.9px;top:794.4px;width:9px;height:9px;border-radius:50%;background:#5b76e8"></div>
<div class="t" style="left:606.5px;top:800.6px;font-size:10.5px;color:#343641;font-weight:700;">inactive</div>
<div class="r" style="left:653.0px;top:794.4px;width:9px;height:9px;border-radius:50%;background:#35e07a"></div>
<div class="t" style="left:665.3px;top:800.6px;font-size:10.5px;color:#343641;font-weight:700;">not_yet</div>
<svg style="left:0;top:0" width="1360" height="1360" viewBox="0 0 1360 1360"><defs><linearGradient id="hg1538" x1="0" y1="0" x2="0" y2="1"><stop offset="0" stop-color="#a4a6ae"/><stop offset="1" stop-color="#6a6c76"/></linearGradient><linearGradient id="hg2538" x1="0" y1="0" x2="1" y2="1"><stop offset="0" stop-color="#137577"/><stop offset="1" stop-color="#0f6266"/></linearGradient><linearGradient id="hg3538" x1="0" y1="0" x2="0" y2="1"><stop offset="0" stop-color="#1f3148"/><stop offset="1" stop-color="#1c1f44"/></linearGradient><linearGradient id="hg4538" x1="0" y1="0" x2="0" y2="1"><stop offset="0" stop-color="#b9bcc4"/><stop offset="0.55" stop-color="#6c7080"/><stop offset="1" stop-color="#1e2434" stop-opacity="0.3"/></linearGradient><linearGradient id="hg5538" x1="0" y1="0" x2="1" y2="1"><stop offset="0" stop-color="#0f6467"/><stop offset="1" stop-color="#136e78"/></linearGradient><clipPath id="hc538"><rect x="600" y="548" width="163.5" height="280"/></clipPath><radialGradient id="og538" cx="624.3" cy="691.7" r="77.5" gradientUnits="userSpaceOnUse"><stop offset="0.64" stop-color="#ff9f1c"/><stop offset="0.8" stop-color="#ffb54f"/><stop offset="1" stop-color="#ff9a16"/></radialGradient><radialGradient id="bg538" cx="624.3" cy="691.7" r="77.5" gradientUnits="userSpaceOnUse"><stop offset="0.64" stop-color="#5f78ea"/><stop offset="0.8" stop-color="#8a9ef2"/><stop offset="1" stop-color="#5a72e6"/></radialGradient></defs><g clip-path="url(#hc538)"><polygon points="745.0,568.0 751.0,558.5 763.0,558.5 769.0,568.0 763.0,577.5 751.0,577.5" fill="#1a2a3c" opacity="0.9"/><polygon points="705.0,605.0 718.0,583.0 744.0,583.0 757.0,605.0 744.0,627.0 718.0,627.0" fill="#1b2d3c" opacity="0.95"/><polygon points="627.5,696.5 651.2,655.5 698.8,655.5 722.5,696.5 698.8,737.5 651.2,737.5" fill="#182234" opacity="0.75"/><polygon points="725.0,677.7 742.0,648.3 776.0,648.3 793.0,677.7 776.0,707.1 742.0,707.1" fill="url(#hg3538)" opacity="0.95"/><polygon points="698.2,627.1 711.8,603.6 738.8,603.6 752.4,627.1 738.8,650.6 711.8,650.6" fill="url(#hg2538)" opacity="0.95"/><polygon points="730.0,611.8 749.8,577.6 789.2,577.6 809.0,611.8 789.2,646.0 749.8,646.0" fill="url(#hg1538)" opacity="0.62"/><polygon points="649.5,678.0 670.0,642.2 711.0,642.2 731.5,678.0 711.0,713.8 670.0,713.8" fill="url(#hg4538)" opacity="0.9"/><polygon points="716.0,734.0 726.0,716.4 746.0,716.4 756.0,734.0 746.0,751.6 726.0,751.6" fill="#1b2431" opacity="0.9"/><polygon points="745.0,809.0 760.0,783.0 790.0,783.0 805.0,809.0 790.0,835.0 760.0,835.0" fill="#1a2838" opacity="0.9"/><polygon points="661.8,809.5 685.9,768.5 734.1,768.5 758.2,809.5 734.1,850.5 685.9,850.5" fill="url(#hg5538)" opacity="0.9"/></g><path d="M624.30 614.20 A77.5 77.5 0 1 1 548.64 708.49 L575.78 702.47 A49.7 49.7 0 1 0 624.30 642.00 Z" fill="url(#og538)" stroke="#fff6e8" stroke-width="1.3"/><path d="M548.64 708.47 A77.5 77.5 0 0 1 624.29 614.20 L624.29 642.00 A49.7 49.7 0 0 0 575.78 702.46 Z" fill="url(#bg538)" stroke="#f4f6ff" stroke-width="1.3"/></svg>
<div class="t" style="left:516.8px;top:565.8px;font-size:12px;color:#5f616c;font-weight:400;letter-spacing:0.38px;-webkit-text-stroke:0.3px #5f616c">Statistics of teachers</div>
<div class="r" style="left:788px;top:205px;width:563px;height:642px;background:#15171c;border:1px solid #1c1d23;border-radius:4px"></div>
<div class="t" style="left:809.9px;top:232.6px;font-size:10.5px;color:#555762;font-weight:700;letter-spacing:-0.25px">Subjects Details</div>
<div class="r" style="left:809px;top:274.5px;width:519px;height:104.0px;background:#141417"></div>
<div class="r" style="left:809px;top:320px;width:519px;height:1px;background:#2a2c33"></div>
<div class="r" style="left:809px;top:349px;width:519px;height:1px;background:#2a2c33"></div>
<div class="r" style="left:809px;top:378px;width:519px;height:1px;background:#2a2c33"></div>
<div class="t" style="left:814.7px;top:293.3px;width:120px;text-align:center;font-size:10.5px;color:#b5b7c8;font-weight:700;">Subject</div>
<div class="t" style="left:944.9px;top:293.3px;width:120px;text-align:center;font-size:10.5px;color:#b5b7c8;font-weight:700;">Teacher</div>
<div class="t" style="left:1074.1px;top:293.3px;width:120px;text-align:center;font-size:10.5px;color:#b5b7c8;font-weight:700;">Grade</div>
<div class="t" style="left:1199.3px;top:284.4px;width:130px;text-align:center;font-size:10.2px;color:#b5b7c8;font-weight:700;">Total number of stude</div>
<div class="t" style="left:1234.3px;top:300.8px;width:60px;text-align:center;font-size:10.5px;color:#b5b7c8;font-weight:700;">nts</div>
<div class="t" style="left:809.7px;top:330.4px;width:130px;text-align:center;font-size:10.5px;color:#e2e3e8;font-weight:400;-webkit-text-stroke:0.25px #e2e3e8">Desiree Maynard</div>
<div class="t" style="left:939.9px;top:330.4px;width:130px;text-align:center;font-size:10.5px;color:#e2e3e8;font-weight:400;-webkit-text-stroke:0.25px #e2e3e8">Teegan Figueroa</div>
<div class="t" style="left:1069.1px;top:330.4px;width:130px;text-align:center;font-size:10.5px;color:#e2e3e8;font-weight:400;-webkit-text-stroke:0.25px #e2e3e8">Optio ipsam quo ear</div>
<div class="t" style="left:1198.8px;top:330.4px;width:130px;text-align:center;font-size:10.5px;color:#e2e3e8;font-weight:400;-webkit-text-stroke:0.25px #e2e3e8">25</div>
<div class="t" style="left:809.7px;top:359.2px;width:130px;text-align:center;font-size:10.5px;color:#e2e3e8;font-weight:400;-webkit-text-stroke:0.25px #e2e3e8">math</div>
<div class="t" style="left:939.9px;top:359.2px;width:130px;text-align:center;font-size:10.5px;color:#e2e3e8;font-weight:400;-webkit-text-stroke:0.25px #e2e3e8">Erna Huel</div>
<div class="t" style="left:1069.1px;top:359.2px;width:130px;text-align:center;font-size:10.5px;color:#e2e3e8;font-weight:400;-webkit-text-stroke:0.25px #e2e3e8">pc</div>
<div class="t" style="left:1198.8px;top:359.2px;width:130px;text-align:center;font-size:10.5px;color:#e2e3e8;font-weight:400;-webkit-text-stroke:0.25px #e2e3e8">9</div>
<div class="r" style="left:983px;top:391px;width:23px;height:22px;background:#1e1f25;border-radius:3px"></div>
<div class="r" style="left:1012px;top:391px;width:23px;height:22px;background:#3a95f5;border-radius:3px"></div>
<div class="r" style="left:1041px;top:391px;width:23px;height:22px;background:#1e1f25;border-radius:3px"></div>
<svg style="left:991px;top:398px" width="6" height="8" viewBox="0 0 6 8"><path d="M4.5 0.8 L1.5 4 L4.5 7.2" stroke="#5d5f69" stroke-width="1" fill="none"/></svg>
<svg style="left:1050px;top:398px" width="6" height="8" viewBox="0 0 6 8"><path d="M1.5 0.8 L4.5 4 L1.5 7.2" stroke="#5d5f69" stroke-width="1" fill="none"/></svg>
<div class="t" style="left:1013.5px;top:397.1px;width:20px;text-align:center;font-size:10.5px;color:#fff;font-weight:700;">1</div>
<div class="t" style="left:1078.0px;top:397.4px;font-size:10.5px;color:#d8d9de;font-weight:400;-webkit-text-stroke:0.2px #d8d9de">Go to</div>
<div class="r" style="left:1109.5px;top:390.5px;width:40.5px;height:23.0px;background:#1a1b20;border:1px solid #3a3c45;border-radius:3px"></div>
<div class="t" style="left:1119.7px;top:397.4px;width:20px;text-align:center;font-size:10.5px;color:#e8e8ea;font-weight:400;">1</div>
<div class="r" style="left:201px;top:876px;width:563px;height:458px;background:#15171c;border:1px solid #1c1d23;border-radius:4px"></div>
<div class="t" style="left:223.0px;top:906.7px;font-size:10.5px;color:#5f616d;font-weight:400;-webkit-text-stroke:0.2px #5f616d;letter-spacing:0.17px">Paid / Unpaid Transactions</div>
<div class="r" style="left:553px;top:894px;width:189px;height:34px;background:#18191e;border-radius:4px"></div>
<div class="r" style="left:562.5px;top:899px;width:170.0px;height:23.5px;background:#1a1b20;border:1px solid #3a3c45;border-radius:3px"></div>
<svg style="left:570.5px;top:906px" width="10" height="10" viewBox="0 0 10 10"><rect x="0.5" y="1" width="9" height="8.5" rx="1" stroke="#5d5f69" fill="none"/><path d="M0.5 3.5 H9.5 M2.5 5.5 H7.5 M2.5 7.5 H7.5" stroke="#5d5f69" stroke-width="0.8"/></svg>
<div class="t" style="left:586.0px;top:906.0px;font-size:11px;color:#e8e8ea;font-weight:400;-webkit-text-stroke:0.3px #e8e8ea">2024</div>
<svg style="left:0;top:0" width="1360" height="1360" viewBox="0 0 1360 1360"><line x1="229" y1="968.5" x2="747" y2="968.5" stroke="#b4b5bb" stroke-width="1"/><line x1="229" y1="1022.2" x2="747" y2="1022.2" stroke="#b4b5bb" stroke-width="1"/><line x1="229" y1="1076.0" x2="747" y2="1076.0" stroke="#b4b5bb" stroke-width="1"/><line x1="229" y1="1129.7" x2="747" y2="1129.7" stroke="#b4b5bb" stroke-width="1"/><line x1="229" y1="1183.5" x2="747" y2="1183.5" stroke="#b4b5bb" stroke-width="1"/><defs><linearGradient id="ug" x1="0" y1="0" x2="0" y2="1"><stop offset="0" stop-color="#ff5a14" stop-opacity="0.42"/><stop offset="1" stop-color="#ff6a3a" stop-opacity="0.28"/></linearGradient><linearGradient id="pg" x1="0" y1="0" x2="0" y2="1"><stop offset="0" stop-color="#7fd9c0" stop-opacity="0.55"/><stop offset="1" stop-color="#6fb8a8" stop-opacity="0.45"/></linearGradient></defs><path d="M230.00 1237.20 C245.67 1237.20 261.35 1237.20 277.02 1237.20 C292.69 1237.20 308.37 1237.20 324.04 1237.20 C339.71 1237.20 355.39 1237.20 371.06 1237.20 C386.73 1237.20 402.41 1237.20 418.08 1237.20 C433.75 1237.20 449.43 1237.20 465.10 1237.20 C480.77 1237.20 496.45 1034.19 512.12 1022.24 C527.79 1010.30 543.47 1004.33 559.14 1004.33 C574.81 1004.33 590.49 1219.29 606.16 1219.29 C621.83 1219.29 637.51 1201.37 653.18 1201.37 C668.85 1201.37 684.53 1201.37 700.20 1201.37 C715.87 1201.37 731.55 1219.29 747.22 1237.20 L747.22 1237.20 L230.00 1237.20 Z" fill="url(#ug)"/><path d="M230.00 1237.20 C245.67 1237.20 261.35 1237.20 277.02 1237.20 C292.69 1237.20 308.37 1237.20 324.04 1237.20 C339.71 1237.20 355.39 1237.20 371.06 1237.20 C386.73 1237.20 402.41 1237.20 418.08 1237.20 C433.75 1237.20 449.43 1237.20 465.10 1237.20 C480.77 1237.20 496.45 1201.37 512.12 1201.37 C527.79 1201.37 543.47 1237.20 559.14 1237.20 C574.81 1237.20 590.49 1237.20 606.16 1237.20 C621.83 1237.20 637.51 1237.20 653.18 1237.20 C668.85 1237.20 684.53 1237.20 700.20 1237.20 C715.87 1237.20 731.55 1237.20 747.22 1237.20 L747.22 1237.20 L230.00 1237.20 Z" fill="url(#pg)"/><path d="M230.00 1237.20 C245.67 1237.20 261.35 1237.20 277.02 1237.20 C292.69 1237.20 308.37 1237.20 324.04 1237.20 C339.71 1237.20 355.39 1237.20 371.06 1237.20 C386.73 1237.20 402.41 1237.20 418.08 1237.20 C433.75 1237.20 449.43 1237.20 465.10 1237.20 C480.77 1237.20 496.45 1034.19 512.12 1022.24 C527.79 1010.30 543.47 1004.33 559.14 1004.33 C574.81 1004.33 590.49 1219.29 606.16 1219.29 C621.83 1219.29 637.51 1201.37 653.18 1201.37 C668.85 1201.37 684.53 1201.37 700.20 1201.37 C715.87 1201.37 731.55 1219.29 747.22 1237.20" stroke="#f2581a" stroke-width="1.6" fill="none"/><path d="M230.00 1237.20 C245.67 1237.20 261.35 1237.20 277.02 1237.20 C292.69 1237.20 308.37 1237.20 324.04 1237.20 C339.71 1237.20 355.39 1237.20 371.06 1237.20 C386.73 1237.20 402.41 1237.20 418.08 1237.20 C433.75 1237.20 449.43 1237.20 465.10 1237.20 C480.77 1237.20 496.45 1201.37 512.12 1201.37 C527.79 1201.37 543.47 1237.20 559.14 1237.20 C574.81 1237.20 590.49 1237.20 606.16 1237.20 C621.83 1237.20 637.51 1237.20 653.18 1237.20 C668.85 1237.20 684.53 1237.20 700.20 1237.20 C715.87 1237.20 731.55 1237.20 747.22 1237.20" stroke="#4fc7b0" stroke-width="1.4" fill="none"/><line x1="230.0" y1="1237.2" x2="747.2" y2="1237.2" stroke="#1fc9c0" stroke-width="2.2"/><circle cx="512.12" cy="1022.24" r="4.2" fill="#ff5a14"/><circle cx="559.14" cy="1004.33" r="4.2" fill="#ff5a14"/><circle cx="606.16" cy="1219.29" r="4.2" fill="#ff5a14"/><circle cx="653.18" cy="1201.37" r="4.2" fill="#ff5a14"/><circle cx="700.20" cy="1201.37" r="4.2" fill="#ff5a14"/><circle cx="512.12" cy="1201.37" r="4.2" fill="#5fb39c"/><circle cx="230.00" cy="1237.20" r="4.3" fill="#1fcfc4"/><circle cx="277.02" cy="1237.20" r="4.3" fill="#1fcfc4"/><circle cx="324.04" cy="1237.20" r="4.3" fill="#1fcfc4"/><circle cx="371.06" cy="1237.20" r="4.3" fill="#1fcfc4"/><circle cx="418.08" cy="1237.20" r="4.3" fill="#1fcfc4"/><circle cx="465.10" cy="1237.20" r="4.3" fill="#1fcfc4"/><circle cx="512.12" cy="1237.20" r="4.3" fill="#1fcfc4"/><circle cx="559.14" cy="1237.20" r="4.3" fill="#1fcfc4"/><circle cx="606.16" cy="1237.20" r="4.3" fill="#1fcfc4"/><circle cx="653.18" cy="1237.20" r="4.3" fill="#1fcfc4"/><circle cx="700.20" cy="1237.20" r="4.3" fill="#1fcfc4"/><circle cx="747.22" cy="1237.20" r="4.3" fill="#1fcfc4"/></svg>
<div class="t" style="left:202.0px;top:965.1px;width:20px;text-align:right;font-size:7px;color:#2e3039;font-weight:400;">15</div>
<div class="t" style="left:202.0px;top:1018.8px;width:20px;text-align:right;font-size:7px;color:#2e3039;font-weight:400;">12</div>
<div class="t" style="left:202.0px;top:1072.6px;width:20px;text-align:right;font-size:7px;color:#2e3039;font-weight:400;">9</div>
<div class="t" style="left:202.0px;top:1126.3px;width:20px;text-align:right;font-size:7px;color:#2e3039;font-weight:400;">6</div>
<div class="t" style="left:202.0px;top:1180.0px;width:20px;text-align:right;font-size:7px;color:#2e3039;font-weight:400;">3</div>
<div class="t" style="left:202.0px;top:1233.8px;width:20px;text-align:right;font-size:7px;color:#2e3039;font-weight:400;">0</div>
<div class="t" style="left:210.0px;top:1248.3px;width:40px;text-align:center;font-size:8.5px;color:#2e3039;font-weight:400;">Jan</div>
<div class="t" style="left:257.0px;top:1248.3px;width:40px;text-align:center;font-size:8.5px;color:#2e3039;font-weight:400;">Fev</div>
<div class="t" style="left:304.0px;top:1248.3px;width:40px;text-align:center;font-size:8.5px;color:#2e3039;font-weight:400;">Mar</div>
<div class="t" style="left:351.1px;top:1248.3px;width:40px;text-align:center;font-size:8.5px;color:#2e3039;font-weight:400;">Avr</div>
<div class="t" style="left:398.1px;top:1248.3px;width:40px;text-align:center;font-size:8.5px;color:#2e3039;font-weight:400;">Mai</div>
<div class="t" style="left:445.1px;top:1248.3px;width:40px;text-align:center;font-size:8.5px;color:#2e3039;font-weight:400;">Juin</div>
<div class="t" style="left:492.1px;top:1248.3px;width:40px;text-align:center;font-size:8.5px;color:#2e3039;font-weight:400;">Juil</div>
<div class="t" style="left:539.1px;top:1248.3px;width:40px;text-align:center;font-size:8.5px;color:#2e3039;font-weight:400;">Ao&ucirc;t</div>
<div class="t" style="left:586.2px;top:1248.3px;width:40px;text-align:center;font-size:8.5px;color:#2e3039;font-weight:400;">Sep</div>
<div class="t" style="left:633.2px;top:1248.3px;width:40px;text-align:center;font-size:8.5px;color:#2e3039;font-weight:400;">Oct</div>
<div class="t" style="left:680.2px;top:1248.3px;width:40px;text-align:center;font-size:8.5px;color:#2e3039;font-weight:400;">Nov</div>
<div class="t" style="left:727.2px;top:1248.3px;width:40px;text-align:center;font-size:8.5px;color:#2e3039;font-weight:400;">D&eacute;c</div>
<div class="r" style="left:408.0px;top:1275.5px;width:9px;height:9px;border-radius:50%;background:#22d3c5"></div>
<div class="t" style="left:419.7px;top:1281.6px;font-size:10.5px;color:#33353f;font-weight:700;">paid</div>
<div class="r" style="left:447.5px;top:1275.5px;width:9px;height:9px;border-radius:50%;background:#ff5a14"></div>
<div class="t" style="left:459.4px;top:1281.6px;font-size:10.5px;color:#33353f;font-weight:700;">unpaid</div>
<div class="r" style="left:500.1px;top:1275.5px;width:9px;height:9px;border-radius:50%;background:#22d3c5"></div>
<div class="t" style="left:511.4px;top:1281.6px;font-size:10.5px;color:#33353f;font-weight:700;">refunded</div>
<div class="r" style="left:788px;top:876px;width:563px;height:458px;background:#15171c;border:1px solid #1c1d23;border-radius:4px"></div>
<div class="t" style="left:969.0px;top:885.8px;width:200px;text-align:center;font-size:10.5px;color:#5f616d;font-weight:400;-webkit-text-stroke:0.2px #5f616d;letter-spacing:0.16px">Financial Statistics</div>
<div class="r" style="left:810px;top:925.5px;width:92.5px;height:25.5px;background:#4a4c55;border-radius:4px"></div>
<svg style="left:819.5px;top:933px" width="11" height="10" viewBox="0 0 11 10"><path d="M2.5 3.5 V0.8 H8.5 V3.5" stroke="#d0d1d6" stroke-width="0.9" fill="none"/><rect x="0.6" y="3.5" width="9.8" height="4" rx="1.2" stroke="#d0d1d6" stroke-width="0.9" fill="none"/><rect x="2.5" y="6" width="6" height="3.4" stroke="#d0d1d6" stroke-width="0.9" fill="#4a4c55"/></svg>
<div class="t" style="left:833.6px;top:933.3px;font-size:9.3px;color:#cfd0da;font-weight:400;-webkit-text-stroke:0.35px #cfd0da;letter-spacing:0.05px">Print Revenue</div>
<div class="r" style="left:1140px;top:920px;width:188px;height:35.5px;background:#18191e;border-radius:4px"></div>
<div class="r" style="left:1149.5px;top:926.5px;width:170.0px;height:23.0px;background:#1a1b20;border:1px solid #3a3c45;border-radius:3px"></div>
<svg style="left:1157.5px;top:933px" width="10" height="10" viewBox="0 0 10 10"><rect x="0.5" y="1" width="9" height="8.5" rx="1" stroke="#5d5f69" fill="none"/><path d="M0.5 3.5 H9.5 M2.5 5.5 H7.5 M2.5 7.5 H7.5" stroke="#5d5f69" stroke-width="0.8"/></svg>
<div class="t" style="left:1173.0px;top:932.7px;font-size:11px;color:#e8e8ea;font-weight:400;-webkit-text-stroke:0.3px #e8e8ea">2024</div>
<svg style="left:1331px;top:980px" width="12" height="8" viewBox="0 0 12 8"><path d="M0 1 H12 M0 4 H12 M0 7 H12" stroke="#7e808c" stroke-width="1.3"/></svg>
<svg style="left:0;top:0" width="1360" height="1360" viewBox="0 0 1360 1360"><line x1="823" y1="996.2" x2="1343" y2="996.2" stroke="#b4b5bb" stroke-width="1"/><line x1="823" y1="1041.1" x2="1343" y2="1041.1" stroke="#b4b5bb" stroke-width="1"/><line x1="823" y1="1086.0" x2="1343" y2="1086.0" stroke="#b4b5bb" stroke-width="1"/><line x1="823" y1="1130.9" x2="1343" y2="1130.9" stroke="#b4b5bb" stroke-width="1"/><line x1="823" y1="1175.9" x2="1343" y2="1175.9" stroke="#b4b5bb" stroke-width="1"/><line x1="823" y1="1220.8" x2="1343" y2="1220.8" stroke="#b4b5bb" stroke-width="1"/><line x1="823" y1="1265.7" x2="1343" y2="1265.7" stroke="#d0d1d6" stroke-width="1.4"/><line x1="823.0" y1="1265.7" x2="823.0" y2="1270.7" stroke="#d0d1d6" stroke-width="1.2"/><line x1="866.3" y1="1265.7" x2="866.3" y2="1270.7" stroke="#d0d1d6" stroke-width="1.2"/><line x1="909.7" y1="1265.7" x2="909.7" y2="1270.7" stroke="#d0d1d6" stroke-width="1.2"/><line x1="953.0" y1="1265.7" x2="953.0" y2="1270.7" stroke="#d0d1d6" stroke-width="1.2"/><line x1="996.3" y1="1265.7" x2="996.3" y2="1270.7" stroke="#d0d1d6" stroke-width="1.2"/><line x1="1039.7" y1="1265.7" x2="1039.7" y2="1270.7" stroke="#d0d1d6" stroke-width="1.2"/><line x1="1083.0" y1="1265.7" x2="1083.0" y2="1270.7" stroke="#d0d1d6" stroke-width="1.2"/><line x1="1126.3" y1="1265.7" x2="1126.3" y2="1270.7" stroke="#d0d1d6" stroke-width="1.2"/><line x1="1169.6" y1="1265.7" x2="1169.6" y2="1270.7" stroke="#d0d1d6" stroke-width="1.2"/><line x1="1213.0" y1="1265.7" x2="1213.0" y2="1270.7" stroke="#d0d1d6" stroke-width="1.2"/><line x1="1256.3" y1="1265.7" x2="1256.3" y2="1270.7" stroke="#d0d1d6" stroke-width="1.2"/><line x1="1299.6" y1="1265.7" x2="1299.6" y2="1270.7" stroke="#d0d1d6" stroke-width="1.2"/><line x1="1343.0" y1="1265.7" x2="1343.0" y2="1270.7" stroke="#d0d1d6" stroke-width="1.2"/><rect x="1092.6" y="1010" width="6.6" height="255.7" fill="#1a8cfb"/><rect x="1100.6" y="1010" width="6.6" height="255.7" fill="#12d98a"/></svg>
<div class="t" style="left:786.0px;top:992.8px;width:30px;text-align:right;font-size:7px;color:#2e3039;font-weight:400;">600</div>
<div class="t" style="left:786.0px;top:1037.7px;width:30px;text-align:right;font-size:7px;color:#2e3039;font-weight:400;">500</div>
<div class="t" style="left:786.0px;top:1082.6px;width:30px;text-align:right;font-size:7px;color:#2e3039;font-weight:400;">400</div>
<div class="t" style="left:786.0px;top:1127.5px;width:30px;text-align:right;font-size:7px;color:#2e3039;font-weight:400;">300</div>
<div class="t" style="left:786.0px;top:1172.4px;width:30px;text-align:right;font-size:7px;color:#2e3039;font-weight:400;">200</div>
<div class="t" style="left:786.0px;top:1217.4px;width:30px;text-align:right;font-size:7px;color:#2e3039;font-weight:400;">100</div>
<div class="t" style="left:786.0px;top:1262.3px;width:30px;text-align:right;font-size:7px;color:#2e3039;font-weight:400;">0</div>
<div class="t" style="left:824.7px;top:1276.3px;width:40px;text-align:center;font-size:8.5px;color:#2e3039;font-weight:400;">Jan</div>
<div class="t" style="left:868.0px;top:1276.3px;width:40px;text-align:center;font-size:8.5px;color:#2e3039;font-weight:400;">Feb</div>
<div class="t" style="left:911.3px;top:1276.3px;width:40px;text-align:center;font-size:8.5px;color:#2e3039;font-weight:400;">Mar</div>
<div class="t" style="left:954.7px;top:1276.3px;width:40px;text-align:center;font-size:8.5px;color:#2e3039;font-weight:400;">Apr</div>
<div class="t" style="left:998.0px;top:1276.3px;width:40px;text-align:center;font-size:8.5px;color:#2e3039;font-weight:400;">May</div>
<div class="t" style="left:1041.3px;top:1276.3px;width:40px;text-align:center;font-size:8.5px;color:#2e3039;font-weight:400;">Jun</div>
<div class="t" style="left:1084.7px;top:1276.3px;width:40px;text-align:center;font-size:8.5px;color:#2e3039;font-weight:400;">Jul</div>
<div class="t" style="left:1128.0px;top:1276.3px;width:40px;text-align:center;font-size:8.5px;color:#2e3039;font-weight:400;">Aug</div>
<div class="t" style="left:1171.3px;top:1276.3px;width:40px;text-align:center;font-size:8.5px;color:#2e3039;font-weight:400;">Sep</div>
<div class="t" style="left:1214.6px;top:1276.3px;width:40px;text-align:center;font-size:8.5px;color:#2e3039;font-weight:400;">Oct</div>
<div class="t" style="left:1258.0px;top:1276.3px;width:40px;text-align:center;font-size:8.5px;color:#2e3039;font-weight:400;">Nov</div>
<div class="t" style="left:1301.3px;top:1276.3px;width:40px;text-align:center;font-size:8.5px;color:#2e3039;font-weight:400;">Dec</div>
<div class="r" style="left:994.5px;top:1304px;width:8.0px;height:8px;background:#1a8cfb;border-radius:1px"></div>
<div class="t" style="left:1005.0px;top:1309.9px;font-size:10.5px;color:#33353f;font-weight:700;">Net</div>
<div class="r" style="left:1030px;top:1304px;width:8px;height:8px;background:#12d98a;border-radius:1px"></div>
<div class="t" style="left:1041.0px;top:1309.9px;font-size:10.5px;color:#33353f;font-weight:700;">Revenue</div>
<div class="r" style="left:1090.4px;top:1304px;width:8.0px;height:8px;background:#f5a623;border-radius:1px"></div>
<div class="t" style="left:1102.0px;top:1309.9px;font-size:10.5px;color:#33353f;font-weight:700;">Expense</div>
<div class="r" style="left:1236px;top:1300.5px;width:100px;height:30.0px;background:#4a4c55;border-radius:5px"></div>
<svg style="left:1251px;top:1309px" width="12" height="12" viewBox="0 0 12 12"><path d="M0.5 3.5 H11.5 M0.5 8.5 H11.5" stroke="#d8d9de" stroke-width="1.1"/><circle cx="7.5" cy="3.5" r="1.8" fill="#d8d9de"/><circle cx="4" cy="8.5" r="1.8" fill="#d8d9de"/></svg>
<div class="t" style="left:1268.5px;top:1310.0px;font-size:11px;color:#eeeef0;font-weight:400;-webkit-text-stroke:0.3px #eeeef0">Customize</div>
<div class="r" style="left:1341px;top:1302px;width:21px;height:27.5px;background:#262e68;border-radius:5px 0 0 5px"></div>
<svg style="left:1346px;top:1309px" width="10" height="7" viewBox="0 0 10 7"><path d="M1 6 L5 1.5 L9 6" stroke="#4e5aa8" stroke-width="1.4" fill="none"/></svg>
</body></html>
